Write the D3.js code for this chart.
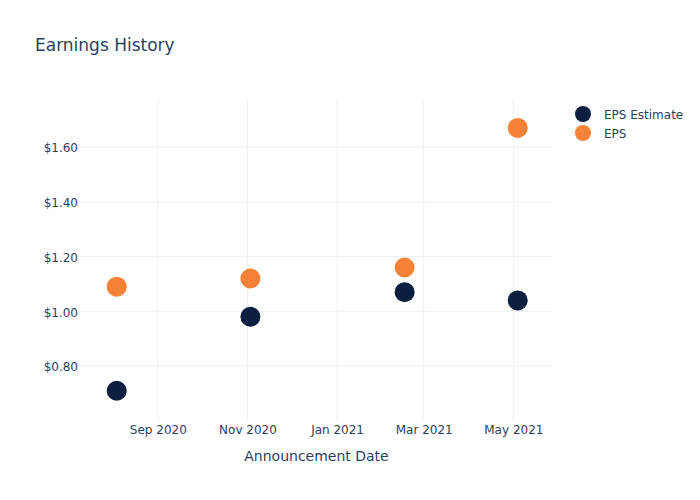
<!DOCTYPE html>
<html>
<head>
<meta charset="utf-8">
<script src="https://cdn.jsdelivr.net/npm/d3@7"></script>
<style>
  body { margin: 0; background: #fff; }
  svg text { font-family: "DejaVu Sans", Verdana, sans-serif; fill: #2a3f5f; }
</style>
</head>
<body>
<svg id="chart" width="700" height="500"></svg>
<script>
const dates = ["2020-08-04", "2020-11-03", "2021-02-16", "2021-05-04"];
const epsEstimate = [0.71, 0.98, 1.07, 1.04];
const eps = [1.09, 1.12, 1.16, 1.67];
const yTicks = [0.8, 1.0, 1.2, 1.4, 1.6];
const xTicks = ["2020-09-01", "2020-11-01", "2021-01-01", "2021-03-01", "2021-05-01"];
const series = [
  { name: "EPS Estimate", values: epsEstimate, color: "#0b1f41" },
  { name: "EPS", values: eps, color: "#f68237" }
];

const parse = d3.utcParse("%Y-%m-%d");
const svg = d3.select("#chart");
const plotLeft = 80, plotRight = 553, plotTop = 100, plotBottom = 420;

const x = d3.scaleUtc()
  .domain([parse("2020-07-10"), parse("2021-05-28")])
  .range([plotLeft, plotRight]);
const y = d3.scaleLinear()
  .domain([0.603, 1.772])
  .range([plotBottom, plotTop]);

// gridlines
svg.append("g")
  .selectAll("line")
  .data(xTicks)
  .enter()
  .append("line")
  .attr("x1", d => x(parse(d)))
  .attr("x2", d => x(parse(d)))
  .attr("y1", plotTop)
  .attr("y2", plotBottom)
  .attr("stroke", "#ebf0f8");

svg.append("g")
  .selectAll("line")
  .data(yTicks)
  .enter()
  .append("line")
  .attr("x1", plotLeft)
  .attr("x2", plotRight)
  .attr("y1", d => y(d))
  .attr("y2", d => y(d))
  .attr("stroke", "#ebf0f8");

// axes
const xAxis = svg.append("g")
  .attr("transform", `translate(0,${plotBottom})`)
  .call(d3.axisBottom(x).tickValues(xTicks.map(parse)).tickFormat(d3.utcFormat("%b %Y")).tickSize(0).tickPadding(5));
xAxis.select(".domain").remove();
xAxis.selectAll("text").attr("font-size", 12).style("fill", "#2a3f5f");

const yAxis = svg.append("g")
  .attr("transform", `translate(${plotLeft},0)`)
  .call(d3.axisLeft(y).tickValues(yTicks).tickFormat(d => "$" + d.toFixed(2)).tickSize(0).tickPadding(2));
yAxis.select(".domain").remove();
yAxis.selectAll("text").attr("font-size", 12).attr("dy", "0.4em").style("fill", "#2a3f5f");

// points
series.forEach(s => {
  svg.append("g")
    .selectAll("circle")
    .data(s.values)
    .enter()
    .append("circle")
    .attr("cx", (d, i) => x(parse(dates[i])))
    .attr("cy", d => y(d))
    .attr("r", 10)
    .attr("fill", s.color);
});

// titles
svg.append("text")
  .attr("x", 35)
  .attr("y", 51)
  .attr("font-size", 17)
  .text("Earnings History");

svg.append("text")
  .attr("x", (plotLeft + plotRight) / 2)
  .attr("y", 461)
  .attr("text-anchor", "middle")
  .attr("font-size", 14)
  .text("Announcement Date");

// legend
const legend = svg.append("g")
  .selectAll("g")
  .data(series)
  .enter()
  .append("g")
  .attr("transform", (d, i) => `translate(583,${114 + i * 19})`);
legend.append("circle").attr("r", 8).attr("fill", d => d.color);
legend.append("text")
  .attr("x", 21)
  .attr("y", 4.5)
  .attr("font-size", 12)
  .text(d => d.name);
</script>
</body>
</html>
